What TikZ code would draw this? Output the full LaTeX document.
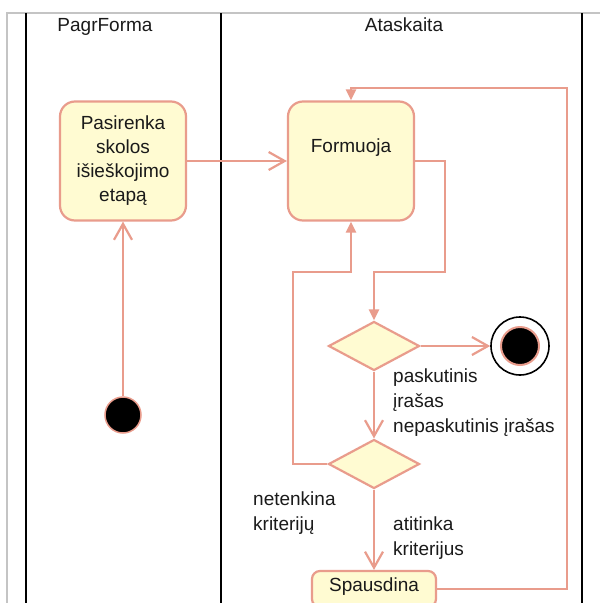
\documentclass[tikz,border=0pt]{standalone}
\usepackage{fontspec}
\setmainfont{Liberation Sans}
\usetikzlibrary{arrows.meta,shapes.geometric}

\definecolor{edge}{HTML}{E99C8C}
\definecolor{actfill}{HTML}{FFFBD2}
\definecolor{frame}{HTML}{C4C4C4}
\definecolor{ink}{HTML}{1A1A1A}

\tikzset{
  actbox/.style={draw=edge, fill=actfill, line width=2.2pt, rounded corners=15pt,
                 inner sep=0pt, align=center, text=ink},
  decision/.style={diamond, draw=edge, fill=actfill, line width=2.2pt, inner sep=0pt,
                   aspect=1.857, minimum width=91pt, minimum height=49pt},
  flow/.style={draw=edge, line width=2.2pt, -{Straight Barb[length=16pt,width=18pt,line width=2.2pt]}},
  flowfill/.style={draw=edge, line width=2.2pt, -{Triangle[length=11pt,width=10pt]}, fill=none},
  lane/.style={draw=black, line width=1.5pt},
  lbl/.style={anchor=base west, inner sep=0pt, text=ink},
  ttl/.style={anchor=base, inner sep=0pt, text=ink},
}

\begin{document}
\begin{tikzpicture}[x=1pt, y=-1pt, font=\fontsize{19}{24}\selectfont]
  \clip (0,0) rectangle (600,603);
  \fill[white] (0,0) rectangle (600,603);

  % swimlane frame
  \draw[frame, line width=1.5pt] (7,603) -- (7,13) -- (600,13);
  \draw[lane] (26,13) -- (26,603);
  \draw[lane] (221,13) -- (221,603);
  \draw[lane] (582,13) -- (582,603);
  \node[ttl] (laneA) at (105,31) {PagrForma};
  \node[ttl] (laneB) at (404,31) {Ataskaita};

  % activities
  \node[actbox, minimum width=126pt, minimum height=119pt] (pas) at (123,161)
    {Pasirenka\\skolos\\išieškojimo\\etapą};
  \node[actbox, minimum width=126pt, minimum height=119pt] (form) at (351,161) {};
  \node[ttl] (formtxt) at (351,152.7) {Formuoja};
  \node[actbox, rounded corners=8pt, minimum width=124pt, minimum height=36pt] (sp) at (374,589) {};
  \node[ttl] (sptxt) at (374,591.7) {Spausdina};

  % decisions
  \node[decision] (d1) at (374,346) {};
  \node[decision] (d2) at (374,464) {};

  % initial and final nodes
  \node[circle, fill=black, draw=edge, line width=1.5pt, minimum size=36pt, inner sep=0pt] (init) at (123,415) {};
  \node[circle, fill=white, draw=black, line width=1.6pt, minimum size=58pt, inner sep=0pt] (fin) at (520,346) {};
  \node[circle, fill=black, draw=edge, line width=2pt, minimum size=38pt, inner sep=0pt] (fincore) at (fin) {};

  % bend points
  \coordinate (r1) at (445,272);
  \coordinate (l1) at (293,272);
  \coordinate (t1) at (567,88);

  % flows
  \draw[flow] (init) -- (pas.south);
  \draw[flow] (pas.east) -- (form.west);
  \draw[flowfill] (form.east) -| (r1) -| (d1.north);
  \draw[flow] (d1.east) -- (fin.west);
  \draw[flow] (d1.south) -- (d2.north);
  \draw[flowfill] (d2.west) -| (l1) -| (form.south);
  \draw[flow] (d2.south) -- (sp.north);
  \draw[flowfill] (sp.east) -| (t1) -| (form.north);

  % guards
  \node[lbl] (g1) at (393,382) {paskutinis};
  \node[lbl] (g1b) at (393,407) {įrašas};
  \node[lbl] (g2) at (393,432) {nepaskutinis įrašas};
  \node[lbl] (g3) at (253,505.7) {netenkina};
  \node[lbl] (g3b) at (253,530) {kriterijų};
  \node[lbl] (g4) at (393,530.7) {atitinka};
  \node[lbl] (g4b) at (393,555) {kriterijus};
\end{tikzpicture}
\end{document}
